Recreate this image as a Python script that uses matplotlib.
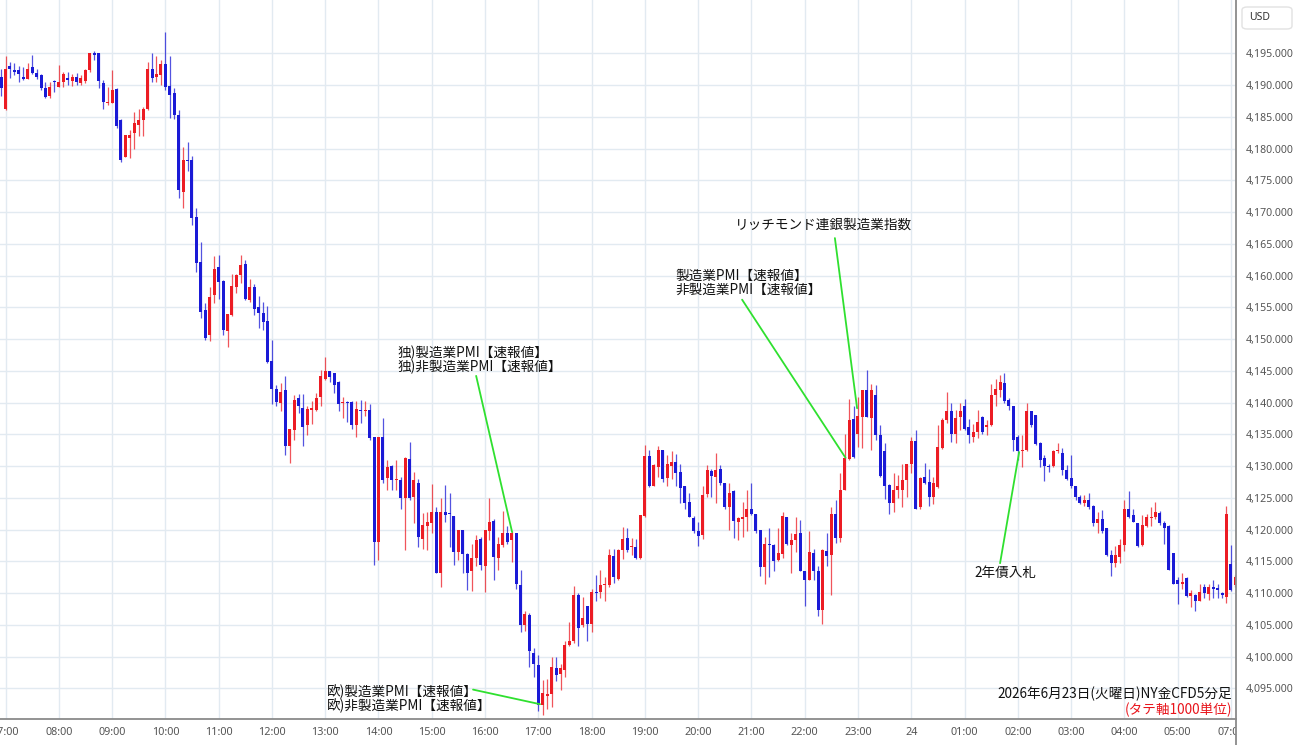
import matplotlib
matplotlib.use("Agg")
import matplotlib.pyplot as plt
from matplotlib.patches import FancyBboxPatch
from matplotlib.lines import Line2D
from matplotlib.transforms import Bbox

# ---------------- data (5-minute bars, NY gold CFD) ----------------
opens = [4191.2, 4186.2, 4193.0, 4192.4, 4192.4, 4191.3, 4191.0, 4192.8, 4191.9, 4191.6,
         4189.6, 4188.2, 4190.6, 4189.7, 4190.4, 4191.1, 4190.6, 4191.3, 4190.3, 4190.7,
         4192.3, 4195.0, 4195.0, 4190.3, 4187.1, 4187.1, 4189.4, 4184.5, 4178.7, 4181.6,
         4182.4, 4183.7, 4184.5, 4186.2, 4192.6, 4191.3, 4191.6, 4193.3, 4189.9, 4188.7,
         4185.3, 4173.2, 4178.2, 4178.2, 4169.2, 4162.2, 4154.6, 4150.6, 4156.9, 4161.3,
         4159.2, 4151.2, 4153.8, 4158.2, 4160.1, 4161.8, 4156.2, 4158.2, 4155.0, 4154.1,
         4152.8, 4146.6, 4142.1, 4140.0, 4142.0, 4133.2, 4135.7, 4140.7, 4139.2, 4136.5,
         4138.8, 4138.8, 4140.8, 4143.7, 4144.9, 4144.6, 4143.3, 4139.9, 4140.1, 4140.1,
         4136.5, 4138.8, 4138.6, 4138.8, 4134.5, 4118.1, 4134.5, 4128.1, 4130.0, 4127.8,
         4127.8, 4125.0, 4131.1, 4125.2, 4127.4, 4118.5, 4120.5, 4121.1, 4122.8, 4113.2,
         4122.7, 4122.6, 4122.1, 4116.4, 4119.9, 4116.2, 4113.5, 4115.5, 4118.5, 4114.2,
         4119.7, 4121.4, 4115.6, 4117.6, 4119.4, 4118.4, 4119.4, 4111.3, 4105.0, 4106.6,
         4100.6, 4098.7, 4092.4, 4093.8, 4094.1, 4098.2, 4097.3, 4097.9, 4101.8, 4102.5,
         4109.7, 4105.0, 4107.9, 4105.2, 4110.2, 4110.1, 4111.2, 4111.3, 4115.8, 4112.2,
         4116.8, 4118.6, 4117.3, 4117.3, 4115.5, 4122.1, 4131.6, 4126.9, 4129.9, 4132.5,
         4128.1, 4130.0, 4130.7, 4129.0, 4126.8, 4124.4, 4121.8, 4119.8, 4119.2, 4125.6,
         4129.3, 4128.3, 4129.5, 4127.4, 4123.5, 4126.0, 4121.2, 4121.6, 4121.9, 4123.3,
         4122.5, 4119.9, 4114.1, 4117.7, 4117.6, 4115.2, 4116.2, 4121.9, 4117.6, 4118.4,
         4119.5, 4113.4, 4112.1, 4116.3, 4113.5, 4107.3, 4116.7, 4116.0, 4122.5, 4118.6,
         4126.3, 4131.1, 4137.4, 4135.1, 4137.8, 4142.0, 4137.5, 4141.2, 4134.9, 4132.3,
         4127.0, 4124.2, 4126.2, 4126.3, 4127.8, 4130.3, 4134.0, 4123.5, 4128.3, 4127.5,
         4125.1, 4126.7, 4132.8, 4137.2, 4138.7, 4135.1, 4137.8, 4139.4, 4136.2, 4134.6,
         4135.4, 4137.8, 4136.2, 4136.5, 4141.2, 4141.9, 4143.1, 4140.4, 4139.5, 4134.6,
         4132.4, 4132.5, 4138.6, 4138.0, 4133.7, 4131.2, 4130.0, 4130.0, 4132.3, 4132.1,
         4129.4, 4128.1, 4126.9, 4125.2, 4124.2, 4124.7, 4123.7, 4121.1, 4121.6, 4120.2,
         4116.0, 4114.8, 4115.7, 4117.6, 4123.2, 4122.3, 4121.0, 4117.6, 4120.5, 4121.8,
         4121.9, 4122.6, 4121.0, 4120.5, 4116.3, 4112.0, 4111.4, 4112.3, 4109.5, 4109.7,
         4108.8, 4111.0, 4109.9, 4111.0, 4110.8, 4110.0, 4109.4, 4114.5, 4111.3]
highs = [4192.5, 4194.6, 4193.7, 4193.4, 4193.0, 4192.9, 4193.4, 4194.7, 4192.6, 4191.8,
         4190.4, 4190.4, 4190.8, 4193.1, 4192.1, 4192.1, 4191.8, 4191.9, 4191.6, 4192.6,
         4195.0, 4195.3, 4195.1, 4190.8, 4189.7, 4192.4, 4189.5, 4184.6, 4182.2, 4182.9,
         4185.8, 4186.2, 4186.5, 4193.7, 4195.0, 4194.5, 4193.9, 4198.4, 4194.5, 4189.5,
         4186.0, 4180.3, 4181.1, 4178.8, 4170.6, 4165.3, 4155.6, 4158.2, 4163.0, 4163.2,
         4159.3, 4154.0, 4160.3, 4160.3, 4163.2, 4162.4, 4159.4, 4158.7, 4156.8, 4155.9,
         4155.2, 4149.9, 4142.8, 4143.1, 4144.2, 4135.9, 4141.2, 4141.3, 4141.3, 4139.5,
         4140.2, 4141.5, 4145.1, 4147.2, 4145.0, 4144.7, 4143.4, 4140.9, 4140.2, 4140.2,
         4140.2, 4140.4, 4140.3, 4139.8, 4134.6, 4134.6, 4137.5, 4131.0, 4130.1, 4131.0,
         4128.3, 4131.4, 4133.8, 4129.1, 4127.9, 4122.6, 4122.8, 4127.2, 4123.6, 4124.9,
         4127.0, 4125.7, 4122.2, 4120.0, 4120.0, 4116.3, 4117.8, 4119.1, 4118.9, 4120.0,
         4124.9, 4121.6, 4118.9, 4123.0, 4120.5, 4119.7, 4119.5, 4113.6, 4107.1, 4106.9,
         4101.3, 4100.3, 4096.3, 4096.4, 4100.0, 4100.0, 4098.9, 4102.4, 4105.5, 4111.1,
         4110.0, 4109.4, 4108.0, 4110.7, 4112.8, 4113.7, 4112.6, 4117.0, 4116.9, 4117.0,
         4120.4, 4120.2, 4118.6, 4118.5, 4122.3, 4133.3, 4132.6, 4130.4, 4133.2, 4132.6,
         4131.7, 4132.3, 4131.9, 4130.4, 4126.8, 4125.7, 4122.1, 4121.2, 4126.9, 4130.2,
         4129.5, 4132.1, 4130.2, 4127.4, 4127.3, 4126.2, 4122.0, 4124.4, 4126.3, 4127.4,
         4122.5, 4119.9, 4118.8, 4120.2, 4117.7, 4120.2, 4122.8, 4121.9, 4119.5, 4121.9,
         4121.5, 4113.4, 4119.7, 4117.0, 4114.2, 4116.9, 4119.4, 4123.6, 4124.7, 4128.9,
         4135.1, 4140.5, 4139.5, 4140.9, 4142.0, 4145.2, 4142.9, 4142.8, 4136.5, 4133.6,
         4127.1, 4128.9, 4128.6, 4130.3, 4130.4, 4134.5, 4135.6, 4128.3, 4130.5, 4129.6,
         4128.3, 4136.5, 4137.5, 4141.7, 4139.9, 4138.9, 4139.9, 4140.5, 4137.4, 4136.7,
         4138.8, 4137.9, 4137.3, 4143.0, 4143.7, 4144.3, 4144.6, 4140.7, 4139.5, 4134.9,
         4134.9, 4140.0, 4138.7, 4138.1, 4133.8, 4131.7, 4130.4, 4132.5, 4133.7, 4132.8,
         4130.2, 4131.7, 4126.9, 4125.4, 4125.4, 4125.7, 4123.9, 4122.8, 4123.1, 4120.2,
         4116.8, 4117.4, 4118.5, 4124.6, 4126.1, 4123.3, 4121.0, 4122.3, 4122.5, 4123.5,
         4124.4, 4123.0, 4121.4, 4120.7, 4116.3, 4112.6, 4113.1, 4112.6, 4110.5, 4109.9,
         4111.4, 4111.4, 4111.4, 4112.0, 4111.4, 4110.1, 4123.7, 4117.6, 4112.8]
lows = [4188.3, 4186.0, 4191.1, 4191.6, 4190.5, 4190.8, 4190.9, 4191.8, 4190.9, 4189.2,
        4187.9, 4187.9, 4188.9, 4189.7, 4189.7, 4190.0, 4189.9, 4190.0, 4190.0, 4190.3,
        4192.1, 4193.9, 4189.5, 4186.3, 4186.9, 4187.1, 4183.3, 4177.9, 4178.6, 4178.5,
        4180.0, 4181.9, 4181.9, 4186.1, 4190.5, 4190.5, 4190.0, 4189.2, 4184.8, 4184.6,
        4172.2, 4170.6, 4176.4, 4168.0, 4160.6, 4153.3, 4149.9, 4149.7, 4155.6, 4156.3,
        4150.6, 4148.8, 4153.7, 4157.2, 4158.8, 4156.2, 4155.9, 4153.8, 4151.8, 4151.4,
        4146.2, 4139.8, 4139.4, 4138.6, 4131.7, 4130.5, 4134.1, 4138.4, 4133.2, 4134.9,
        4136.7, 4138.6, 4139.4, 4143.6, 4143.3, 4141.5, 4138.7, 4137.5, 4137.0, 4135.9,
        4134.6, 4136.8, 4137.9, 4134.1, 4114.4, 4115.2, 4127.3, 4126.2, 4126.2, 4126.2,
        4123.3, 4116.8, 4124.6, 4121.0, 4117.3, 4117.0, 4116.8, 4119.4, 4113.1, 4111.0,
        4121.2, 4117.3, 4114.4, 4115.2, 4113.2, 4110.5, 4110.4, 4114.2, 4113.7, 4110.1,
        4118.4, 4112.1, 4113.6, 4117.3, 4117.8, 4114.9, 4110.6, 4103.8, 4104.1, 4098.4,
        4096.8, 4091.5, 4090.8, 4091.7, 4092.1, 4096.2, 4094.8, 4096.8, 4101.7, 4102.1,
        4101.6, 4104.7, 4102.5, 4103.9, 4108.7, 4109.2, 4108.8, 4111.0, 4111.6, 4112.1,
        4115.3, 4116.5, 4116.0, 4115.3, 4115.3, 4121.9, 4126.7, 4126.8, 4128.3, 4127.5,
        4126.8, 4127.9, 4126.8, 4124.2, 4123.3, 4121.9, 4119.5, 4117.4, 4118.5, 4125.1,
        4125.2, 4124.2, 4127.0, 4123.2, 4120.0, 4118.6, 4118.4, 4118.8, 4119.8, 4122.3,
        4119.4, 4112.7, 4111.4, 4112.5, 4113.5, 4115.1, 4115.5, 4117.6, 4113.1, 4116.5,
        4113.4, 4107.9, 4112.1, 4112.1, 4106.4, 4105.1, 4114.2, 4109.7, 4117.9, 4118.1,
        4126.2, 4131.0, 4131.2, 4133.0, 4132.8, 4137.7, 4132.6, 4134.1, 4128.2, 4124.8,
        4122.5, 4122.7, 4124.9, 4123.6, 4125.2, 4128.9, 4123.2, 4123.3, 4127.2, 4123.7,
        4124.0, 4126.5, 4132.7, 4136.8, 4133.8, 4133.7, 4135.7, 4135.7, 4133.7, 4133.8,
        4134.4, 4135.1, 4134.9, 4136.3, 4139.5, 4140.9, 4140.0, 4138.9, 4132.3, 4131.0,
        4129.8, 4132.3, 4136.2, 4133.3, 4129.8, 4127.7, 4129.0, 4129.9, 4132.1, 4128.6,
        4127.8, 4126.5, 4124.7, 4124.0, 4123.7, 4123.3, 4120.5, 4119.5, 4119.5, 4115.8,
        4112.7, 4114.1, 4114.7, 4116.7, 4121.8, 4121.2, 4117.2, 4117.4, 4120.4, 4120.5,
        4121.6, 4120.7, 4117.8, 4113.6, 4111.4, 4108.3, 4110.6, 4109.4, 4107.8, 4107.1,
        4108.7, 4109.3, 4108.9, 4109.2, 4109.3, 4109.2, 4108.4, 4110.4, 4111.0]
closes = [4189.6, 4192.5, 4192.6, 4192.1, 4191.8, 4191.0, 4192.5, 4191.9, 4191.3, 4189.5,
          4188.1, 4189.7, 4190.4, 4190.5, 4191.8, 4190.8, 4191.3, 4190.4, 4191.1, 4192.3,
          4195.0, 4194.7, 4190.7, 4187.4, 4187.4, 4189.2, 4183.6, 4178.2, 4182.1, 4182.1,
          4184.0, 4184.5, 4186.2, 4192.6, 4191.1, 4191.7, 4193.3, 4189.7, 4188.4, 4185.3,
          4173.5, 4178.2, 4178.1, 4169.1, 4162.0, 4154.3, 4150.1, 4156.7, 4161.0, 4159.0,
          4151.5, 4153.9, 4158.4, 4160.1, 4161.7, 4156.3, 4158.2, 4154.8, 4154.1, 4152.7,
          4146.4, 4142.1, 4140.1, 4141.7, 4133.1, 4135.8, 4140.4, 4139.4, 4136.1, 4139.0,
          4139.2, 4140.7, 4144.2, 4144.9, 4144.0, 4142.8, 4139.8, 4140.1, 4139.9, 4136.5,
          4139.0, 4138.6, 4138.7, 4134.4, 4118.1, 4134.5, 4127.8, 4129.8, 4127.8, 4127.9,
          4124.9, 4131.3, 4124.9, 4127.8, 4118.9, 4120.7, 4121.2, 4122.8, 4113.2, 4122.8,
          4122.3, 4122.4, 4116.4, 4119.9, 4116.2, 4113.2, 4115.5, 4118.3, 4114.4, 4119.9,
          4121.2, 4115.7, 4117.8, 4119.4, 4118.1, 4119.4, 4111.5, 4105.0, 4106.7, 4100.8,
          4098.9, 4092.4, 4094.3, 4094.1, 4098.3, 4097.1, 4098.2, 4101.8, 4102.5, 4109.7,
          4104.5, 4106.0, 4105.2, 4110.1, 4110.0, 4111.3, 4111.3, 4116.0, 4112.6, 4116.8,
          4118.5, 4116.8, 4117.4, 4115.6, 4122.3, 4131.6, 4126.8, 4130.2, 4132.5, 4127.9,
          4130.3, 4130.7, 4128.9, 4126.5, 4124.2, 4122.0, 4119.8, 4119.0, 4125.4, 4129.4,
          4128.4, 4129.4, 4127.4, 4123.5, 4125.8, 4121.4, 4121.8, 4121.9, 4123.3, 4122.5,
          4119.8, 4114.1, 4117.7, 4117.6, 4115.1, 4116.3, 4122.1, 4117.7, 4118.3, 4119.3,
          4113.5, 4112.0, 4116.5, 4113.4, 4107.3, 4116.8, 4115.8, 4122.5, 4118.6, 4126.2,
          4131.2, 4137.3, 4131.4, 4137.9, 4141.9, 4137.8, 4142.0, 4134.9, 4128.4, 4126.8,
          4124.2, 4126.2, 4126.8, 4127.8, 4130.3, 4134.0, 4123.3, 4128.1, 4127.4, 4125.1,
          4127.3, 4133.0, 4137.3, 4138.7, 4135.1, 4137.5, 4138.6, 4135.9, 4134.9, 4135.4,
          4137.0, 4135.3, 4136.5, 4141.2, 4142.1, 4143.3, 4140.3, 4139.5, 4134.1, 4132.3,
          4132.5, 4138.6, 4136.5, 4133.5, 4131.0, 4130.0, 4129.9, 4132.3, 4132.6, 4129.4,
          4127.9, 4126.8, 4125.2, 4124.2, 4124.7, 4123.6, 4121.1, 4121.6, 4119.8, 4116.0,
          4114.8, 4116.0, 4117.6, 4123.2, 4121.9, 4121.2, 4117.4, 4120.7, 4121.9, 4121.9,
          4122.8, 4121.0, 4120.2, 4113.7, 4111.5, 4111.4, 4111.8, 4109.5, 4110.0, 4108.8,
          4110.2, 4110.0, 4111.0, 4110.6, 4110.5, 4109.7, 4122.5, 4110.5, 4112.6]

hour_labels = ["07:00", "08:00", "09:00", "10:00", "11:00", "12:00", "13:00", "14:00",
               "15:00", "16:00", "17:00", "18:00", "19:00", "20:00", "21:00", "22:00",
               "23:00", "24", "01:00", "02:00", "03:00", "04:00", "05:00", "07:00"]
first_hour_bar = 1
bars_per_hour = 12
price_ticks = list(range(4095, 4200, 5))

# event annotations: text lines, text anchor (bar, price), line start, line end
events = [
    (["独)製造業PMI【速報値】", "独)非製造業PMI【速報値】"], (89.4, 4147.8), (107.0, 4144.2), (115.1, 4119.6)),
    (["欧)製造業PMI【速報値】", "欧)非製造業PMI【速報値】"], (73.4, 4094.4), (106.3, 4094.8), (121.4, 4092.5)),
    (["製造業PMI【速報値】", "非製造業PMI【速報値】"], (151.8, 4159.9), (166.9, 4156.2), (190.2, 4131.3)),
    (["リッチモンド連銀製造業指数"], (165.3, 4168.0), (187.8, 4165.9), (192.8, 4139.1)),
    (["2年債入札"], (219.3, 4113.2), (229.3, 4132.2), (225.0, 4114.7)),
]
title_text = "2026年6月23日(火曜日)NY金CFD5分足"
unit_text = "(タテ軸1000単位)"

# ---------------- figure ----------------
JP = ["Noto Sans CJK JP", "DejaVu Sans"]
W, H = 1300, 745
fig = plt.figure(figsize=(W / 100, H / 100), dpi=100)
fig.patch.set_facecolor("white")
ax_right_px = 1236
ax_bottom_px = 719
ax = fig.add_axes([0, (H - ax_bottom_px) / H, ax_right_px / W, ax_bottom_px / H])
ax.set_facecolor("white")

n = len(opens)
xs = list(range(n))
up_col, dn_col = "#ec1c24", "#1a1ad6"
body_cols = [up_col if c >= o else dn_col for o, c in zip(opens, closes)]
bottoms = [min(o, c) for o, c in zip(opens, closes)]
heights = [max(abs(c - o), 0.15) for o, c in zip(opens, closes)]

ax.vlines(xs, lows, highs, colors=body_cols, linewidth=0.9, alpha=0.75, zorder=2)
ax.bar(xs, heights, bottom=bottoms, width=0.68, color=body_cols, linewidth=0, zorder=3)

# axes limits (pixel-matched)
ax.set_xlim(-0.24, 278.14)
ax.set_ylim(4090.17, 4203.39)

# grid
tick_pos = [first_hour_bar + bars_per_hour * k for k in range(len(hour_labels))]
ax.set_xticks(tick_pos)
ax.set_xticklabels(hour_labels)
ax.set_yticks(price_ticks)
ax.set_yticklabels([f"{v:,.3f}" for v in price_ticks])
ax.yaxis.tick_right()
ax.grid(True, color="#e2eaf1", linewidth=1.0)
ax.set_axisbelow(True)
ax.tick_params(axis="x", length=0, pad=6, labelsize=7.8, labelcolor="#555555")
ax.tick_params(axis="y", length=0, pad=7, labelsize=7.6, labelcolor="#555555")
for lbl in ax.get_xticklabels() + ax.get_yticklabels():
    lbl.set_fontfamily(["Noto Sans", "DejaVu Sans"])

for s in ("top", "left"):
    ax.spines[s].set_visible(False)
ax.spines["right"].set_visible(False)
ax.spines["bottom"].set_color("#8a8a8a")
ax.spines["bottom"].set_linewidth(1.3)

# right price-scale separator through full height
fig.add_artist(Line2D([ax_right_px / W, ax_right_px / W], [0, 1], transform=fig.transFigure,
                      color="#8a8a8a", linewidth=1.3))

# clip x tick labels at the price-scale separator
clip = Bbox.from_extents(0, 0, ax_right_px, H)
for lbl in ax.get_xticklabels():
    lbl.set_clip_box(clip)
    lbl.set_clip_on(True)

# events
for lines, (tx, ty), (x0, y0), (x1, y1) in events:
    for k, t in enumerate(lines):
        ax.text(tx, ty - k * 2.2, t, fontsize=9.8, family=JP, color="#111111",
                ha="left", va="center", zorder=5)
    ax.plot([x0, x1], [y0, y1], color="#2fe02f", linewidth=1.3, zorder=4,
            solid_capstyle="round")

# footer texts inside the plot
fig.text(1232 / W, 1 - 694 / H, title_text, fontsize=9.8, family=JP, color="#111111",
         ha="right", va="center")
fig.text(1232 / W, 1 - 710 / H, unit_text, fontsize=9.8, family=JP, color="#e8141b",
         ha="right", va="center")

# currency box
fig.patches.append(FancyBboxPatch((1242 / W, 1 - 29 / H), 50 / W, 22 / H,
                                  boxstyle="round,pad=0,rounding_size=0.004",
                                  transform=fig.transFigure, facecolor="white",
                                  edgecolor="#e2e2e2", linewidth=1.0))
fig.text(1249 / W, 1 - 17.5 / H, "USD", fontsize=7.5, color="#333333",
         family=["Noto Sans", "DejaVu Sans"], ha="left", va="center")

fig.savefig("out.png", dpi=100, facecolor="white")
